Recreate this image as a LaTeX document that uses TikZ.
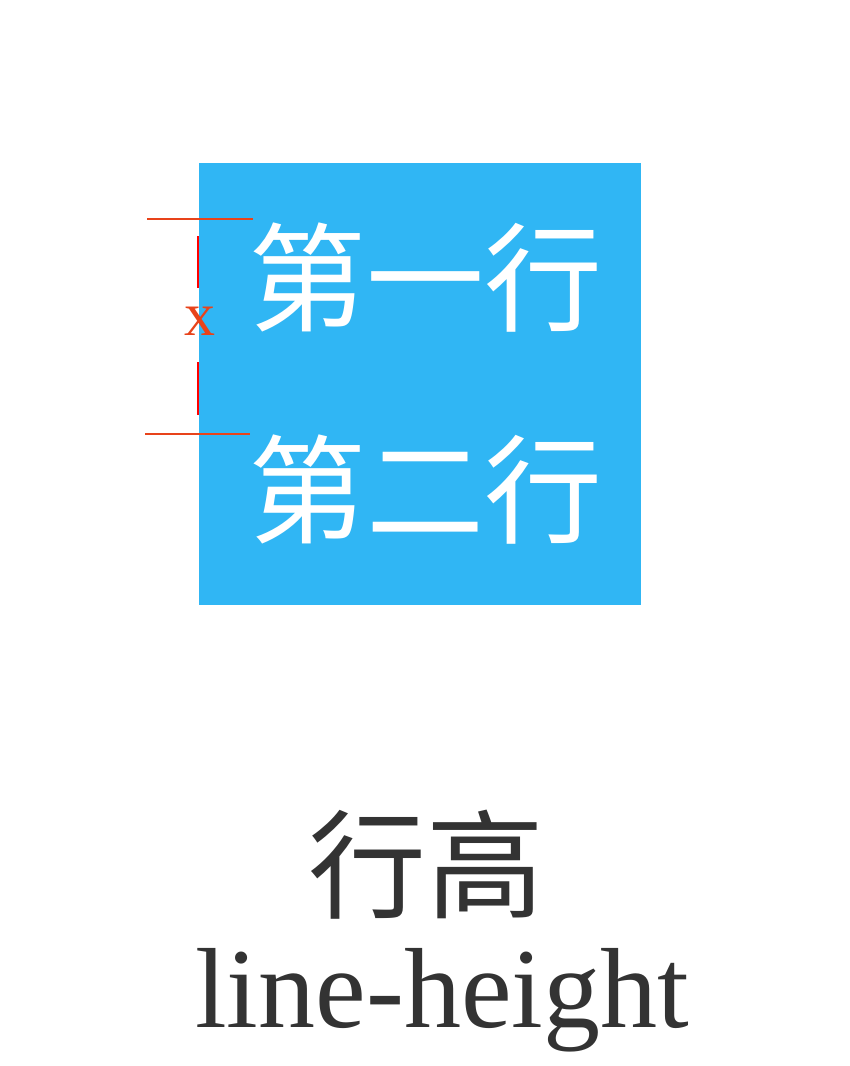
\documentclass[tikz,border=0pt]{standalone}
\usepackage{fontspec}
\setmainfont{Liberation Serif}
\newfontfamily\cjk{Noto Sans CJK SC}
\usetikzlibrary{positioning}
\definecolor{skyblue}{RGB}{48,182,244}
\definecolor{markred}{RGB}{232,67,26}
\definecolor{textgray}{RGB}{51,51,51}
\tikzset{
  panel/.style={fill=skyblue, draw=none},
  rowtext/.style={font=\cjk\fontsize{118}{118}\selectfont, text=white,
    inner sep=0pt, anchor=center},
  capcjk/.style={font=\cjk\fontsize{118}{118}\selectfont, text=textgray,
    inner sep=0pt, anchor=center},
  caplatin/.style={font=\fontsize{114}{114}\selectfont, text=textgray,
    inner sep=0pt, anchor=base},
  guide/.style={draw=markred, line width=1.4pt},
  span/.style={draw=red, line width=1.2pt},
  spanlabel/.style={font=\fontsize{62}{62}\selectfont, text=markred,
    inner sep=0pt, anchor=center}
}

\begin{document}
\begin{tikzpicture}[x=1pt, y=-1pt]
  \useasboundingbox (0,0) rectangle (850,1066);

  % Blue panel with the two lines of text.
  \fill[panel] (199,163) rectangle (641,605);
  \node[rowtext] (rowone) at (425,278) {第一行};
  \node[rowtext] (rowtwo) at (425,490) {第二行};

  % Line-height marker.
  \coordinate (topl) at (147,219);
  \coordinate (topr) at (253,219);
  \coordinate (botl) at (145,434);
  \coordinate (botr) at (250,434);
  \draw[guide] (topl) -- (topr);
  \draw[guide] (botl) -- (botr);
  \node[spanlabel] (xmark) at (200,321) {x};
  \coordinate (spantop) at (198,236);
  \coordinate (spanbot) at (198,415);
  \draw[span] (spantop) -- (spantop |- 0,288);
  \draw[span] (spanbot |- 0,362) -- (spanbot);

  % Caption.
  \node[capcjk] (capzh) at (426,865) {行高};
  \node[caplatin] (capen) at (442,1027) {line-height};
\end{tikzpicture}
\end{document}
